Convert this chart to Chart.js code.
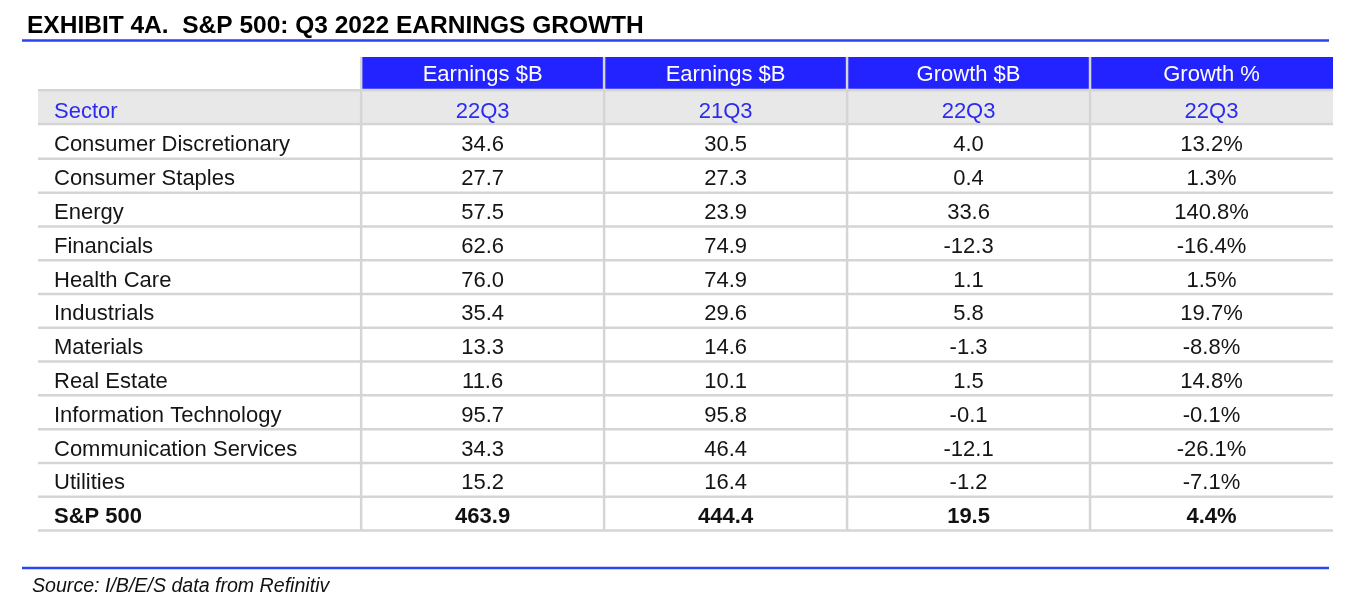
<!DOCTYPE html>
<html>
<head>
<meta charset="utf-8">
<script src="https://cdn.jsdelivr.net/npm/chart.js@4"></script>
<style>
  html, body { margin: 0; padding: 0; background: #ffffff; }
  canvas { display: block; }
</style>
</head>
<body>
<canvas id="chart-table" width="1348" height="604"></canvas>
<script>
const sectors = [
  'Consumer Discretionary', 'Consumer Staples', 'Energy', 'Financials',
  'Health Care', 'Industrials', 'Materials', 'Real Estate',
  'Information Technology', 'Communication Services', 'Utilities'
];
const earnings22Q3 = [34.6, 27.7, 57.5, 62.6, 76.0, 35.4, 13.3, 11.6, 95.7, 34.3, 15.2];
const earnings21Q3 = [30.5, 27.3, 23.9, 74.9, 74.9, 29.6, 14.6, 10.1, 95.8, 46.4, 16.4];
const growthB = [4.0, 0.4, 33.6, -12.3, 1.1, 5.8, -1.3, 1.5, -0.1, -12.1, -1.2];
const growthPct = [13.2, 1.3, 140.8, -16.4, 1.5, 19.7, -8.8, 14.8, -0.1, -26.1, -7.1];
const totalLabel = 'S&P 500';
const totals = [463.9, 444.4, 19.5, 4.4];
const headerTop = ['Earnings $B', 'Earnings $B', 'Growth $B', 'Growth %'];
const headerSub = ['22Q3', '21Q3', '22Q3', '22Q3'];
const firstColLabel = 'Sector';
const titleText = 'EXHIBIT 4A.  S&P 500: Q3 2022 EARNINGS GROWTH';
const sourceText = 'Source: I/B/E/S data from Refinitiv';

// ---- layout / style ----
const FONT = "'Liberation Sans', Arial, Helvetica, sans-serif";
const BLUE = '#2323ff';
const BLUE_TEXT = '#2b2bf2';
const RULE_BLUE = '#2a44f2';
const GREY_ROW = '#e8e8e8';
const GRID = '#d5d5d5';
const colSpan = [1.33, 1, 1, 1, 1]; // sector column is wider

const rowLabels = ['', firstColLabel].concat(sectors, [totalLabel]);
const fmt = v => v.toFixed(1);
const fmtPct = v => v.toFixed(1) + '%';
const bodyRows = sectors.map((s, i) => [s, fmt(earnings22Q3[i]), fmt(earnings21Q3[i]), fmt(growthB[i]), fmtPct(growthPct[i])]);
const totalRow = [totalLabel, fmt(totals[0]), fmt(totals[1]), fmt(totals[2]), fmtPct(totals[3])];

const colEdges = colSpan.reduce((acc, w) => { acc.push(acc[acc.length - 1] + w); return acc; }, [0]);

const tablePlugin = {
  id: 'tablePlugin',
  afterDraw(chart) {
    const ctx = chart.ctx;
    const xs = chart.scales.x;
    const ys = chart.scales.y;
    const area = chart.chartArea;
    const n = rowLabels.length;
    const rowTop = i => ys.getPixelForValue(i - 0.5);
    const rowBot = i => ys.getPixelForValue(i + 0.5);
    const rowMid = i => ys.getPixelForValue(i);
    const colX = k => xs.getPixelForValue(colEdges[k]);
    const colMid = k => xs.getPixelForValue((colEdges[k] + colEdges[k + 1]) / 2);

    ctx.save();

    // title + rules
    ctx.fillStyle = '#000000';
    ctx.font = 'bold 24.5px ' + FONT;
    ctx.textAlign = 'left';
    ctx.textBaseline = 'alphabetic';
    ctx.fillText(titleText, 27, 33);

    ctx.strokeStyle = RULE_BLUE;
    ctx.lineWidth = 2.5;
    ctx.beginPath();
    ctx.moveTo(22, 40.5); ctx.lineTo(1329, 40.5);
    ctx.moveTo(22, 568); ctx.lineTo(1329, 568);
    ctx.stroke();

    ctx.fillStyle = '#111111';
    ctx.font = 'italic 19.6px ' + FONT;
    ctx.fillText(sourceText, 32, 592);

    // header fills
    ctx.fillStyle = BLUE;
    ctx.fillRect(colX(1), rowTop(0) - 1, colX(5) - colX(1), rowBot(0) - rowTop(0) - 2);
    ctx.fillStyle = GREY_ROW;
    ctx.fillRect(area.left, rowTop(1) - 1, area.right - area.left, rowBot(1) - rowTop(1) - 1);

    // grid lines
    ctx.strokeStyle = GRID;
    ctx.lineWidth = 2.5;
    ctx.beginPath();
    for (let i = 1; i <= n; i++) {
      const y = rowTop(i) - (i < 3 ? 1.5 : 0.5);
      ctx.moveTo(area.left, y);
      ctx.lineTo(area.right, y);
    }
    for (let k = 1; k < colSpan.length; k++) {
      const x = colX(k);
      ctx.moveTo(x, rowTop(0) - 1);
      ctx.lineTo(x, rowBot(n - 1));
    }
    ctx.stroke();

    // header text
    ctx.font = '22px ' + FONT;
    ctx.textAlign = 'center';
    ctx.fillStyle = '#ffffff';
    headerTop.forEach((t, k) => ctx.fillText(t, colMid(k + 1), rowMid(0) + 6));
    ctx.fillStyle = BLUE_TEXT;
    headerSub.forEach((t, k) => ctx.fillText(t, colMid(k + 1), rowMid(1) + 9));
    ctx.textAlign = 'left';
    ctx.fillText(firstColLabel, colX(0) + 16, rowMid(1) + 9);

    // body
    const drawRow = (cells, i, bold) => {
      ctx.font = (bold ? 'bold ' : '') + '22px ' + FONT;
      ctx.fillStyle = bold ? '#111111' : '#151515';
      cells.forEach((c, k) => {
        if (k === 0) {
          ctx.textAlign = 'left';
          ctx.fillText(c, colX(0) + 16, rowMid(i) + 9);
        } else {
          ctx.textAlign = 'center';
          ctx.fillText(c, colMid(k), rowMid(i) + 9);
        }
      });
    };
    bodyRows.forEach((r, j) => drawRow(r, j + 2, false));
    drawRow(totalRow, n - 1, true);

    ctx.restore();
  }
};

new Chart(document.getElementById('chart-table'), {
  type: 'bar',
  data: {
    labels: rowLabels,
    datasets: [{ data: rowLabels.map(() => null) }]
  },
  options: {
    indexAxis: 'y',
    responsive: false,
    animation: false,
    devicePixelRatio: 1,
    layout: { padding: { left: 38, right: 15, top: 58, bottom: 73 } },
    scales: {
      x: { type: 'linear', min: 0, max: colEdges[colEdges.length - 1], display: false },
      y: { type: 'category', offset: true, display: false }
    },
    plugins: {
      legend: { display: false },
      tooltip: { enabled: false },
      title: { display: false }
    }
  },
  plugins: [tablePlugin]
});
</script>
</body>
</html>
